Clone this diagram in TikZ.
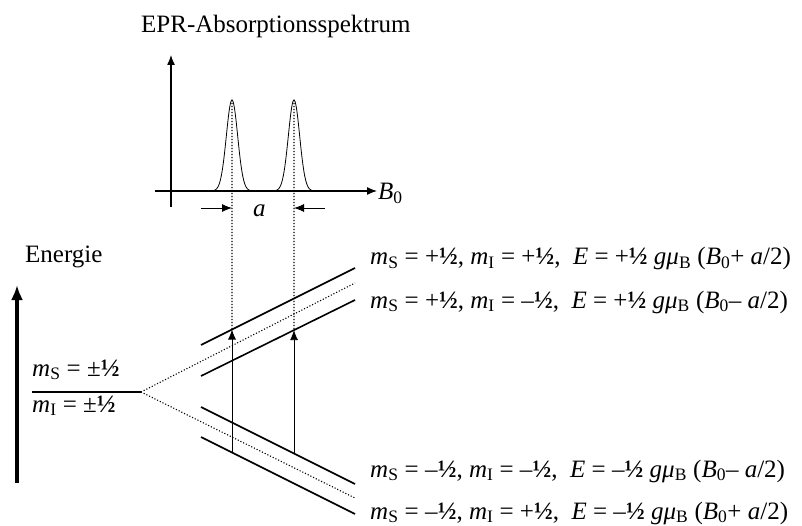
\documentclass[tikz,border=0pt]{standalone}
\usepackage{fontspec}
\setmainfont{Liberation Serif}
\usetikzlibrary{arrows.meta,positioning,calc}
\tikzset{>={Latex[length=10pt,width=8pt]},
  axis/.style={line width=1.3pt},
  level/.style={line width=1.6pt},
  guide/.style={line width=1.1pt, dash pattern=on 1.1pt off 1.9pt},
  trans/.style={->, line width=0.8pt},
  lbl/.style={anchor=base west, inner sep=0pt,
    font=\fontsize{25}{30}\selectfont}}
\newcommand{\ms}{\textit{m}\textsubscript{S}}
\newcommand{\mi}{\textit{m}\textsubscript{I}}
\newcommand{\hf}{\textbf{½}}
\newcommand{\gmu}{\textit{gμ}\textsubscript{B}}
\newcommand{\bnull}{\textit{B}\textsubscript{0}}

\begin{document}
\begin{tikzpicture}[x=1pt,y=-1pt]
  \useasboundingbox (0,0) rectangle (802,526);
  % spectrum
  \node[lbl] (title) at (141,33) {EPR-Absorptionsspektrum};
  \draw[axis,->] (171,207) -- (171,55);
  \draw[axis,->] (155,191) -- (377,191);
  \node[lbl] (bfield) at (378,200) {\bnull};
  \foreach \c/\n in {232/pa,294/pb} {
    \draw[line width=0.8pt] plot[domain=-22:22,samples=81,smooth]
      ({\c+\x},{191-91*exp(-(\x)*(\x)/64)});
    \coordinate (\n) at (\c,100);
  }
  % splitting a
  \coordinate (al) at (201,208);
  \coordinate (ar) at (325,208);
  \draw[trans] (al) -- (pa |- al);
  \draw[trans] (ar) -- (pb |- ar);
  \node[lbl] (asplit) at (253,217) {\textit{a}};
  % energy levels
  \node[lbl] (energie) at (25,263) {Energie};
  \draw[line width=3.5pt,-{Latex[length=15pt,width=12pt]}] (17,483) -- (17,285);
  \coordinate (split) at (141,392);
  \draw[level] (32,392) -- (split);
  \node[lbl] (msl) at (32,376) {\ms{} = ±\hf};
  \node[lbl] (mil) at (32,412) {\mi{} = ±\hf};
  \coordinate (up) at (355,283);
  \coordinate (dn) at (355,498);
  \draw[guide] (split) -- (up);
  \draw[guide] (split) -- (dn);
  \coordinate (u1a) at (201,345); \coordinate (u1b) at (355,268);
  \coordinate (u2a) at (201,376); \coordinate (u2b) at (355,300);
  \coordinate (d1a) at (201,407); \coordinate (d1b) at (355,484);
  \coordinate (d2a) at (201,437); \coordinate (d2b) at (355,514);
  \foreach \a/\b in {u1a/u1b,u2a/u2b,d1a/d1b,d2a/d2b}
    \draw[level] (\a) -- (\b);
  % transitions
  \coordinate (t1top) at ($(u1a)!0.2013!(u1b)$);
  \coordinate (t1bot) at ($(d2a)!0.2013!(d2b)$);
  \coordinate (t2top) at ($(u2a)!0.6039!(u2b)$);
  \coordinate (t2bot) at ($(d1a)!0.6039!(d1b)$);
  \draw[guide] (pa) -- (t1top);
  \draw[guide] (pb) -- (t2top);
  \draw[trans] (t1bot) -- (t1top);
  \draw[trans] (t2bot) -- (t2top);
  % level labels
  \node[lbl] (l1) at (370,265) {\ms{} = +\hf, \mi{} = +\hf,\enspace \textit{E} = +\hf{} \gmu{} (\bnull+ \textit{a}/2)};
  \node[lbl] (l2) at (370,308) {\ms{} = +\hf, \mi{} = –\hf,\enspace \textit{E} = +\hf{} \gmu{} (\bnull– \textit{a}/2)};
  \node[lbl] (l3) at (370,477) {\ms{} = –\hf, \mi{} = –\hf,\enspace \textit{E} = –\hf{} \gmu{} (\bnull– \textit{a}/2)};
  \node[lbl] (l4) at (370,519) {\ms{} = –\hf, \mi{} = +\hf,\enspace \textit{E} = –\hf{} \gmu{} (\bnull+ \textit{a}/2)};
\end{tikzpicture}
\end{document}
